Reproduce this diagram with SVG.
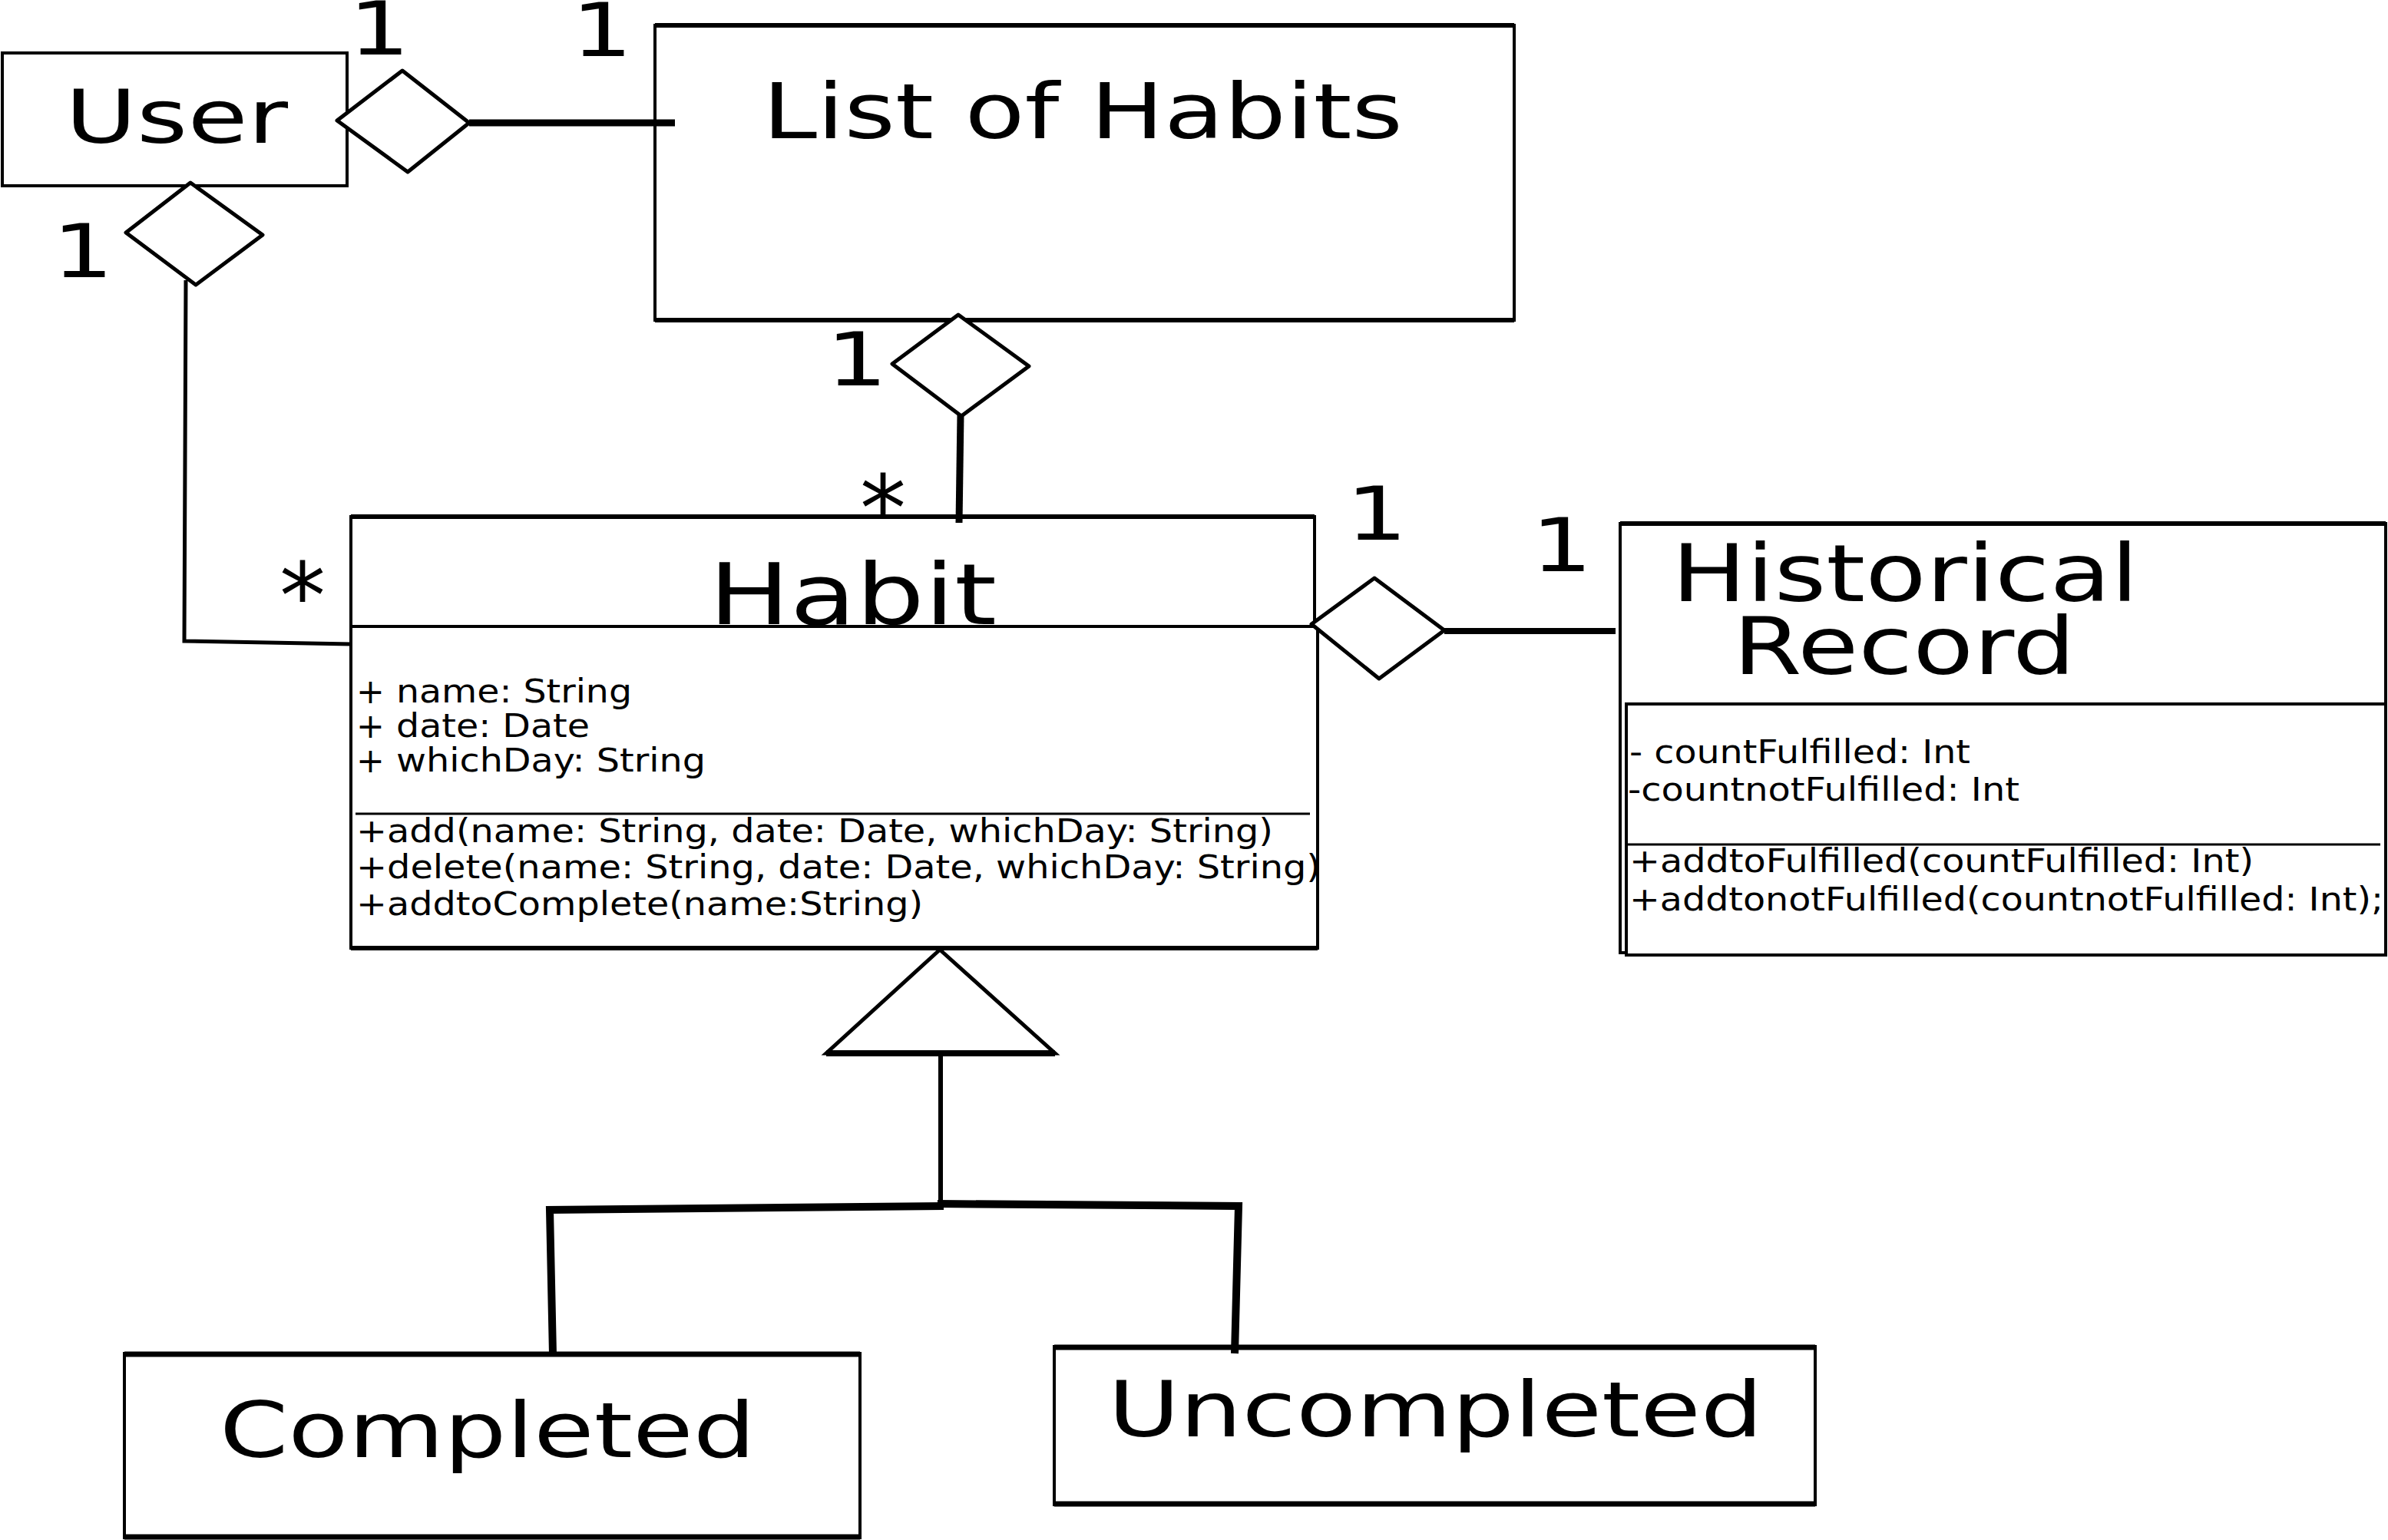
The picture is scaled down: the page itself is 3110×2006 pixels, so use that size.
<svg xmlns="http://www.w3.org/2000/svg" width="3110" height="2006" viewBox="0 0 3110 2006">
<defs>
<style>
text{font-family:"DejaVu Sans","Liberation Sans",sans-serif;fill:#000}
.title{font-size:99px}
.mult{font-size:97px}
.star{font-size:120px}
.small{font-size:43px}
.plus{font-size:44px}
.box{fill:#fff;stroke:#000;stroke-width:4}
.thick{fill:none;stroke:#000;stroke-width:6}
.thick7{fill:none;stroke:#000;stroke-width:7}
.dia{fill:#fff;stroke:#000;stroke-width:5;stroke-linejoin:round}
.ln{fill:none;stroke:#000;stroke-width:5}
.ln6{fill:none;stroke:#000;stroke-width:6}
.ln8{fill:none;stroke:#000;stroke-width:8}
.ln9{fill:none;stroke:#000;stroke-width:9}
.ln10{fill:none;stroke:#000;stroke-width:10;stroke-linejoin:miter}
.sep{stroke:#000;stroke-width:3}
</style>
</defs>
<rect width="3110" height="2006" fill="#fff"/>

<g id="User">
<rect class="box" x="3" y="69" width="449" height="173"/>
<text class="title" x="85" y="186" style="font-size:97px" textLength="290" lengthAdjust="spacingAndGlyphs">User</text>
</g>

<g id="ListOfHabits">
<rect class="box" x="853" y="33" width="1119" height="384"/>
<line class="thick" x1="853" y1="33" x2="1972" y2="33"/>
<line class="thick" x1="853" y1="417" x2="1972" y2="417"/>
<text x="993" y="180" style="font-size:100px" textLength="834" lengthAdjust="spacingAndGlyphs">List of Habits</text>
</g>

<g id="Habit">
<path class="box" d="M457,673 H1712 V816 H457 Z"/>
<path class="box" d="M457,816 H1716 V1235 H457 Z"/>
<line class="thick" x1="457" y1="673" x2="1712" y2="673"/>
<line class="thick" x1="457" y1="1235" x2="1716" y2="1235"/>
<text x="923" y="813" style="font-size:111px" textLength="375" lengthAdjust="spacingAndGlyphs">Habit</text>
<text class="plus" x="464" y="916">+</text>
<text class="small" x="516" y="915" textLength="307" lengthAdjust="spacingAndGlyphs">name: String</text>
<text class="plus" x="464" y="961">+</text>
<text class="small" x="516" y="960" textLength="252" lengthAdjust="spacingAndGlyphs">date: Date</text>
<text class="plus" x="464" y="1006">+</text>
<text class="small" x="516" y="1005" textLength="403" lengthAdjust="spacingAndGlyphs">whichDay: String</text>
<line class="sep" x1="463" y1="1060" x2="1706" y2="1060"/>
<text class="small" x="464" y="1097" textLength="1194" lengthAdjust="spacingAndGlyphs">+add(name: String, date: Date, whichDay: String)</text>
<text class="small" x="464" y="1144" textLength="1256" lengthAdjust="spacingAndGlyphs">+delete(name: String, date: Date, whichDay: String)</text>
<text class="small" x="464" y="1192" textLength="738" lengthAdjust="spacingAndGlyphs">+addtoComplete(name:String)</text>
</g>

<g id="HistoricalRecord">
<rect class="box" x="2110" y="682" width="997" height="559"/>
<line class="thick" x1="2110" y1="682" x2="3107" y2="682"/>
<rect class="box" x="2118" y="917" width="989" height="327"/>
<text x="2177" y="783" style="font-size:103px" textLength="608" lengthAdjust="spacingAndGlyphs">Historical</text>
<text x="2257" y="878" style="font-size:103px" textLength="446" lengthAdjust="spacingAndGlyphs">Record</text>
<text class="small" x="2122" y="994" textLength="444" lengthAdjust="spacingAndGlyphs">- countFulfilled: Int</text>
<text class="small" x="2120" y="1043" textLength="510" lengthAdjust="spacingAndGlyphs">-countnotFulfilled: Int</text>
<line class="sep" x1="2118" y1="1100" x2="3100" y2="1100"/>
<text class="small" x="2122" y="1136" textLength="813" lengthAdjust="spacingAndGlyphs">+addtoFulfilled(countFulfilled: Int)</text>
<text class="small" x="2122" y="1186" textLength="982" lengthAdjust="spacingAndGlyphs">+addtonotFulfilled(countnotFulfilled: Int);</text>
</g>

<g id="Completed">
<rect class="box" x="162" y="1763" width="958" height="240"/>
<line class="thick7" x1="162" y1="1764" x2="1120" y2="1764"/>
<line class="thick7" x1="162" y1="2002" x2="1120" y2="2002"/>
<text class="title" x="286" y="1898" textLength="698" lengthAdjust="spacingAndGlyphs">Completed</text>
</g>

<g id="Uncompleted">
<rect class="box" x="1373" y="1754" width="991" height="206"/>
<line class="thick7" x1="1373" y1="1755" x2="2364" y2="1755"/>
<line class="thick7" x1="1373" y1="1959" x2="2364" y2="1959"/>
<text class="title" x="1443" y="1871" textLength="853" lengthAdjust="spacingAndGlyphs">Uncompleted</text>
</g>

<g id="connectors">
<line class="ln9" x1="611" y1="160" x2="879" y2="160"/>
<polygon class="dia" points="439,157 524,92 611,160 531,224"/>
<polyline class="ln" points="242,365 240,835 457,839"/>
<polygon class="dia" points="248,238 342,306 255,371 164,303"/>
<line class="ln9" x1="1251" y1="540" x2="1249" y2="681"/>
<polygon class="dia" points="1248,410 1340,477 1252,542 1162,474"/>
<line class="ln8" x1="1881" y1="822" x2="2104" y2="822"/>
<polygon class="dia" points="1708,813 1790,753 1881,821 1796,884"/>
<line class="ln6" x1="1225" y1="1372" x2="1225" y2="1570"/>
<polyline class="ln10" points="1229,1571 716,1576 720,1765"/>
<polyline class="ln10" points="1221,1568 1613,1571 1608,1763"/>
<polygon points="1224,1237 1374,1372 1076,1372" fill="#fff" stroke="#000" stroke-width="5"/>
<line class="ln8" x1="1076" y1="1372" x2="1374" y2="1372"/>
</g>

<g id="labels">
<text class="mult" x="454" y="71" textLength="80" lengthAdjust="spacingAndGlyphs">1</text>
<text class="mult" x="744" y="73" textLength="80" lengthAdjust="spacingAndGlyphs">1</text>
<text class="mult" x="68" y="361" textLength="80" lengthAdjust="spacingAndGlyphs">1</text>
<text class="mult" x="1076" y="502" textLength="80" lengthAdjust="spacingAndGlyphs">1</text>
<text class="mult" x="1753" y="703" textLength="80" lengthAdjust="spacingAndGlyphs">1</text>
<text class="mult" x="1994" y="744" textLength="80" lengthAdjust="spacingAndGlyphs">1</text>
<text class="star" x="364" y="818">*</text>
<text class="star" x="1120" y="704">*</text>
</g>
</svg>
